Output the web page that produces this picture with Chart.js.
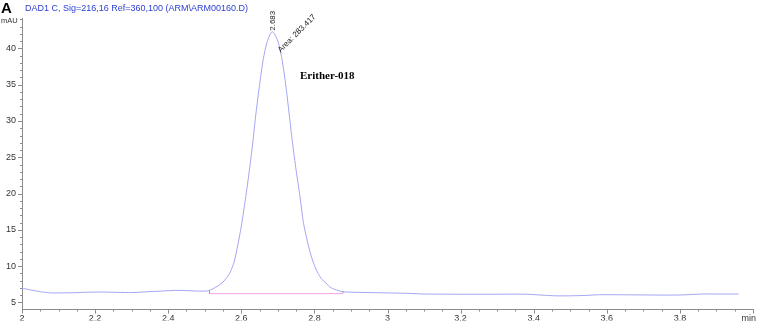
<!DOCTYPE html>
<html>
<head>
<meta charset="utf-8">
<script src="https://cdn.jsdelivr.net/npm/chart.js@4/dist/chart.umd.min.js"></script>
<style>
  body { margin: 0; background: #fff; }
  #wrap { width: 757px; height: 321px; }
</style>
</head>
<body>
<div id="wrap"><canvas id="chrom" width="757" height="321"></canvas></div>
<script>
// retention time (min) and detector signal (mAU)
const times = [
    2.00, 2.02, 2.04, 2.06, 2.08, 2.10, 2.14, 2.18, 2.22, 2.26, 2.30, 2.34, 2.38, 2.42, 2.45, 2.48, 2.50,
    2.51, 2.52, 2.53, 2.54, 2.55, 2.56, 2.57, 2.58, 2.59, 2.60, 2.61, 2.62, 2.63, 2.64, 2.65, 2.66, 2.67,
    2.68, 2.685, 2.69, 2.70, 2.71, 2.72, 2.73, 2.74, 2.75, 2.76, 2.77, 2.78, 2.79, 2.80, 2.81, 2.82, 2.83,
    2.84, 2.85, 2.86, 2.87, 2.88, 2.90, 2.95, 3.00, 3.05, 3.10, 3.20, 3.30, 3.38, 3.42, 3.46, 3.50, 3.54,
    3.58, 3.62, 3.70, 3.78, 3.82, 3.86, 3.90, 3.96
];
const signal = [
    6.95, 6.75, 6.55, 6.40, 6.30, 6.30, 6.32, 6.40, 6.42, 6.38, 6.35, 6.45, 6.55, 6.65, 6.62, 6.55, 6.55,
    6.60, 6.80, 7.10, 7.40, 7.80, 8.40, 9.20, 10.5, 12.8, 15.5, 18.8, 22.4, 26.4, 31.0, 35.0, 38.5, 40.8,
    42.1, 42.3, 42.1, 41.0, 38.9, 35.6, 31.4, 27.0, 23.2, 19.8, 16.0, 13.6, 11.6, 10.1, 9.0, 8.2, 7.75,
    7.2, 6.9, 6.7, 6.55, 6.45, 6.40, 6.35, 6.30, 6.25, 6.15, 6.12, 6.12, 6.12, 6.00, 5.90, 5.90, 5.95,
    6.05, 6.05, 6.02, 6.00, 6.05, 6.15, 6.15, 6.15
];

// integration baseline of the peak
const baseTimes = [2.513, 2.878];
const baseLevel = [6.2, 6.2];
const baseTickTop = [6.7, 6.55];

const peakTime = 2.683;
const peakHeight = 42.3;
const peakArea = 283.417;
const sampleName = 'Erither-018';
const headerText = 'DAD1 C, Sig=216,16 Ref=360,100 (ARM\\ARM00160.D)';

const xTicks = [2, 2.2, 2.4, 2.6, 2.8, 3, 3.2, 3.4, 3.6, 3.8, 4];
const yTicks = [5, 10, 15, 20, 25, 30, 35, 40];

const traceData = times.map((t, i) => ({ x: t, y: signal[i] }));
const baseData = baseTimes.map((t, i) => ({ x: t, y: baseLevel[i] }));
const tickData = [
    { x: baseTimes[0], y: baseTickTop[0] }, { x: baseTimes[0], y: baseLevel[0] }, { x: NaN, y: NaN },
    { x: baseTimes[1], y: baseLevel[1] }, { x: baseTimes[1], y: baseTickTop[1] }
];

const axisColor = '#8c8c8c';
const labelFont = '9px "Liberation Sans", Arial, sans-serif';

// minor/major tick marks and the loose texts round the plot
const decorPlugin = {
    id: 'decor',
    afterDraw(chart) {
        const { ctx, chartArea, scales } = chart;
        const xs = scales.x, ys = scales.y;
        ctx.save();
        ctx.strokeStyle = axisColor;
        ctx.lineWidth = 1;
        ctx.beginPath();
        for (let v = 5; v <= 44; v++) {
            const py = Math.round(ys.getPixelForValue(v)) + 0.5;
            const len = v % 5 === 0 ? 4 : 2;
            ctx.moveTo(chartArea.left - len, py);
            ctx.lineTo(chartArea.left, py);
        }
        for (let k = 0; k <= 40; k++) {
            const v = 2 + k * 0.05;
            const px = Math.round(xs.getPixelForValue(v)) + 0.5;
            const len = k % 4 === 0 ? 4 : 2;
            ctx.moveTo(px, chartArea.bottom);
            ctx.lineTo(px, chartArea.bottom + len);
        }
        ctx.stroke();

        ctx.fillStyle = '#333';
        ctx.font = labelFont;
        ctx.textAlign = 'right';
        ctx.textBaseline = 'top';
        ctx.fillText('min', 756, chartArea.bottom + 4);

        ctx.textAlign = 'left';
        ctx.textBaseline = 'alphabetic';
        ctx.font = '7.5px "Liberation Sans", Arial, sans-serif';
        ctx.fillText('mAU', 1, 23);

        ctx.fillStyle = '#000';
        ctx.font = 'bold 15px "Liberation Sans", Arial, sans-serif';
        ctx.fillText('A', 1, 13);

        ctx.fillStyle = '#2b3fd0';
        ctx.font = '9px "Liberation Sans", Arial, sans-serif';
        ctx.fillText(headerText, 25, 11);

        // peak labels
        const tx = xs.getPixelForValue(peakTime);
        const ty = ys.getPixelForValue(peakHeight);
        ctx.fillStyle = '#222';
        ctx.font = '8px "Liberation Sans", Arial, sans-serif';
        ctx.save();
        ctx.translate(tx + 3, ty - 1);
        ctx.rotate(-Math.PI / 2);
        ctx.fillText(peakTime.toFixed(3), 0, 0);
        ctx.restore();

        ctx.save();
        ctx.translate(tx + 9, ty + 21);
        ctx.rotate(-Math.PI / 4);
        ctx.fillText('Area: ' + peakArea.toFixed(3), 0, 0);
        ctx.restore();

        ctx.fillStyle = '#000';
        ctx.font = 'bold 11px "Liberation Serif", "Times New Roman", serif';
        ctx.fillText(sampleName, 300, 79);
        ctx.restore();
    }
};

new Chart(document.getElementById('chrom'), {
    type: 'line',
    data: {
        datasets: [
            { data: traceData, borderColor: '#a4a4f4', borderWidth: 1, pointRadius: 0, tension: 0.25, fill: false },
            { data: baseData, borderColor: '#f4a4ea', borderWidth: 1, pointRadius: 0, fill: false },
            { data: tickData, borderColor: '#9a9a9a', borderWidth: 1, pointRadius: 0, spanGaps: false, fill: false }
        ]
    },
    options: {
        responsive: false,
        devicePixelRatio: 1,
        animation: false,
        layout: { padding: { top: 18, right: 2, left: 0, bottom: 0 } },
        plugins: { legend: { display: false }, tooltip: { enabled: false } },
        scales: {
            x: {
                type: 'linear',
                min: 2,
                max: 4,
                afterFit: (scale) => { scale.height = 11; },
                afterBuildTicks: (scale) => { scale.ticks = xTicks.map(v => ({ value: v })); },
                grid: { display: false, drawTicks: false },
                border: { display: true, color: axisColor },
                ticks: {
                    padding: 4,
                    color: '#333',
                    font: { family: '"Liberation Sans", Arial, sans-serif', size: 9 },
                    maxRotation: 0,
                    autoSkip: false,
                    callback: (v) => v >= 4 ? '' : String(Number(v.toFixed(1)))
                }
            },
            y: {
                min: 4,
                max: 44.2,
                afterFit: (scale) => { scale.width = 22; },
                afterBuildTicks: (scale) => { scale.ticks = yTicks.map(v => ({ value: v })); },
                grid: { display: false, drawTicks: false },
                border: { display: true, color: axisColor },
                ticks: {
                    padding: 6,
                    color: '#333',
                    font: { family: '"Liberation Sans", Arial, sans-serif', size: 9 },
                    callback: (v) => String(v)
                }
            }
        }
    },
    plugins: [decorPlugin]
});
</script>
</body>
</html>
